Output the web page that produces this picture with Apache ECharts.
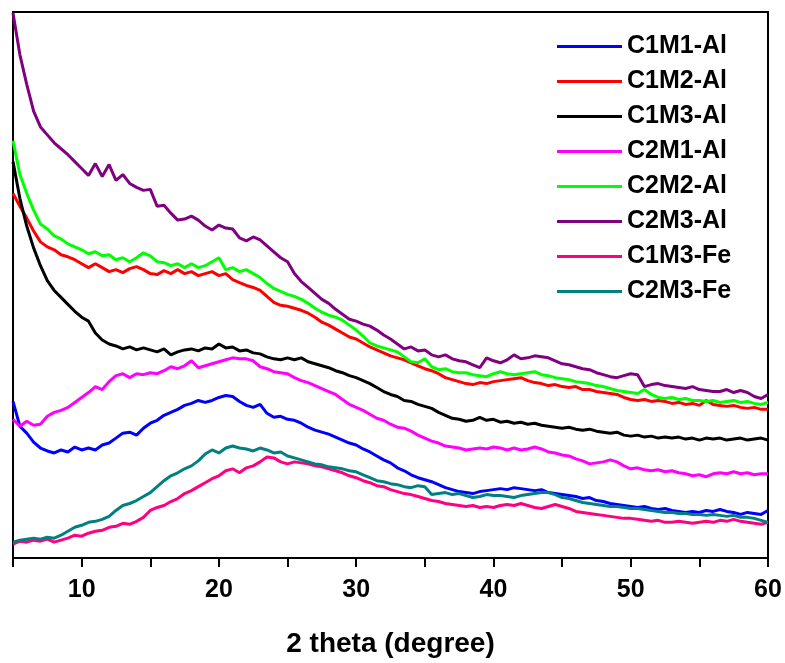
<!DOCTYPE html>
<html>
<head>
<meta charset="UTF-8">
<title>XRD patterns</title>
<style>
  html, body { margin: 0; padding: 0; background: #fff; }
  #chart { width: 785px; height: 663px; }
</style>
</head>
<body>
<div id="chart"></div>
<script src="https://cdn.jsdelivr.net/npm/echarts@6/dist/echarts.min.js"></script>
<script>
// 2 theta sampling positions (degree)
const twoTheta = [
  5, 5.5, 6, 6.5, 7, 7.5, 8, 8.5, 9, 9.5,
  10, 10.5, 11, 11.5, 12, 12.5, 13, 13.5, 14, 14.5,
  15, 15.5, 16, 16.5, 17, 17.5, 18, 18.5, 19, 19.5,
  20, 20.5, 21, 21.5, 22, 22.5, 23, 23.5, 24, 24.5,
  25, 25.5, 26, 26.5, 27, 27.5, 28, 28.5, 29, 29.5,
  30, 30.5, 31, 31.5, 32, 32.5, 33, 33.5, 34, 34.5,
  35, 35.5, 36, 36.5, 37, 37.5, 38, 38.5, 39, 39.5,
  40, 40.5, 41, 41.5, 42, 42.5, 43, 43.5, 44, 44.5,
  45, 45.5, 46, 46.5, 47, 47.5, 48, 48.5, 49, 49.5,
  50, 50.5, 51, 51.5, 52, 52.5, 53, 53.5, 54, 54.5,
  55, 55.5, 56, 56.5, 57, 57.5, 58, 58.5, 59, 59.5,
  60
];

// intensities (a.u., offset as in the figure)
const c1m1Al = [
  158, 133, 126, 117, 111, 108, 106, 109, 107, 112,
  109, 111, 109, 114, 116, 121, 126, 127, 124, 131,
  136, 139, 144, 147, 150, 154, 156, 159, 157, 159,
  162, 164, 163, 158, 154, 152, 155, 146, 142, 143,
  140, 139, 136, 132, 129, 127, 125, 122, 119, 116,
  114, 110, 107, 103, 99, 96, 91, 88, 84, 81,
  79, 77, 74, 71, 69, 67, 66, 65, 67, 68,
  69, 70, 69, 71, 70, 69, 68, 69, 66, 65,
  64, 63, 62, 60, 61, 58, 57, 55, 54, 53,
  52, 51, 52, 50, 49, 50, 48, 47, 46, 47,
  46, 48, 47, 49, 47, 46, 44, 46, 45, 44,
  48
];
const c1m2Al = [
  368, 355, 343, 330, 319, 314, 311, 306, 304, 301,
  297, 293, 297, 293, 289, 291, 288, 292, 294, 291,
  287, 286, 290, 287, 291, 287, 289, 285, 287, 289,
  285, 287, 281, 278, 275, 273, 270, 264, 258, 255,
  254, 252, 250, 247, 243, 238, 235, 231, 227, 223,
  221, 217, 213, 210, 207, 204, 202, 200, 197, 194,
  191, 189, 186, 182, 180, 178, 176, 175, 177, 176,
  178, 179, 180, 181, 182, 179, 177, 176, 174, 175,
  173, 172, 173, 170, 170, 168, 167, 166, 165, 162,
  160, 159, 160, 158, 159, 158, 156, 157, 155, 156,
  154, 159, 155, 154, 153, 154, 152, 151, 152, 150,
  150
];
const c1m3Al = [
  400, 363, 335, 313, 295, 280, 270, 263, 256, 249,
  243, 239, 227, 220, 216, 214, 211, 213, 210, 212,
  210, 208, 211, 205, 208, 210, 211, 209, 212, 211,
  216, 212, 213, 209, 210, 207, 206, 203, 201, 200,
  202, 200, 202, 198, 196, 194, 192, 189, 187, 184,
  182, 179, 176, 172, 168, 165, 163, 159, 158, 155,
  153, 151, 147, 144, 141, 140, 138, 139, 142, 139,
  140, 137, 138, 136, 137, 135, 136, 134, 133, 132,
  131, 132, 130, 129, 130, 128, 127, 126, 127, 124,
  123, 124, 122, 123, 121, 122, 121, 122, 120, 121,
  119, 121, 120, 121, 119, 120, 121, 119, 120, 121,
  119
];
const c2m1Al = [
  140, 133, 138, 134, 135, 143, 147, 149, 152, 157,
  162, 167, 173, 170, 178, 184, 186, 182, 186, 185,
  187, 186, 189, 193, 191, 194, 199, 192, 194, 196,
  198, 200, 202, 201, 201, 199, 193, 191, 188, 187,
  186, 182, 179, 177, 174, 171, 168, 165, 160, 155,
  152, 149, 145, 141, 139, 135, 132, 131, 128, 124,
  121, 118, 116, 113, 112, 111, 109, 110, 111, 110,
  112, 111, 109, 111, 109, 110, 112, 110, 107, 106,
  104, 103, 100, 98, 95, 96, 97, 99, 97, 93,
  90, 91, 89, 88, 89, 87, 88, 86, 85, 83,
  84, 82, 85, 86, 85, 87, 85, 86, 84, 85,
  85
];
const c2m2Al = [
  421, 387, 368, 351, 337, 332, 325, 322, 317, 314,
  311, 307, 309, 305, 306, 301, 303, 299, 303, 308,
  305, 299, 298, 295, 297, 293, 297, 293, 295, 299,
  303, 291, 293, 289, 291, 287, 283, 277, 272, 269,
  266, 264, 261, 257, 252, 248, 245, 243, 240, 235,
  230, 224, 217, 214, 212, 210, 208, 203, 198, 197,
  201, 193, 190, 191, 188, 187, 187, 185, 184, 183,
  186, 188, 186, 185, 186, 187, 188, 185, 184, 182,
  181, 180, 178, 177, 176, 174, 173, 171, 169, 168,
  167, 166, 170, 165, 162, 161, 162, 160, 161, 159,
  159, 158, 159, 157, 158, 159, 157, 158, 156, 155,
  157
];
const c2m3Al = [
  550, 508, 478, 451, 435, 427, 419, 413, 407, 400,
  393, 386, 398, 385, 397, 381, 387, 378, 374, 371,
  372, 355, 356, 348, 341, 342, 345, 341, 335, 331,
  336, 333, 332, 323, 320, 324, 321, 315, 309, 303,
  299, 287, 279, 273, 267, 261, 257, 251, 246, 241,
  239, 236, 234, 230, 225, 221, 216, 211, 213, 209,
  210, 205, 203, 205, 201, 199, 198, 195, 192, 202,
  199, 197, 200, 205, 201, 202, 204, 203, 202, 199,
  196, 195, 193, 191, 190, 187, 185, 183, 182, 184,
  186, 185, 173, 175, 176, 174, 173, 172, 171, 173,
  170, 169, 168, 168, 170, 167, 169, 167, 163, 161,
  165
];
const c1m3Fe = [
  14, 17, 16, 18, 17, 19, 16, 18, 20, 23,
  22, 25, 27, 28, 31, 32, 35, 34, 37, 41,
  48, 51, 53, 57, 60, 65, 68, 72, 76, 80,
  83, 88, 90, 86, 91, 93, 97, 102, 101, 97,
  95, 97, 96, 95, 93, 92, 90, 88, 86, 83,
  81, 78, 76, 73, 72, 69, 67, 65, 64, 62,
  60, 58, 57, 55, 54, 53, 52, 53, 51, 52,
  51, 53, 54, 53, 55, 53, 51, 50, 52, 54,
  52, 50, 47, 46, 45, 44, 43, 42, 41, 40,
  40, 39, 38, 37, 38, 36, 36, 37, 36, 35,
  36, 37, 36, 38, 37, 39, 37, 36, 35, 34,
  36
];
const c2m3Fe = [
  16, 18, 19, 20, 19, 21, 20, 23, 27, 31,
  33, 36, 37, 39, 42, 48, 53, 55, 58, 62,
  66, 72, 78, 83, 86, 90, 93, 98, 105, 109,
  106, 111, 113, 111, 110, 108, 111, 109, 106, 107,
  103, 101, 99, 97, 95, 94, 92, 91, 90, 88,
  87, 84, 81, 78, 77, 75, 74, 72, 71, 73,
  72, 64, 65, 66, 64, 65, 63, 61, 62, 64,
  63, 63, 62, 61, 63, 64, 65, 66, 66, 64,
  61, 60, 58, 56, 55, 54, 53, 52, 52, 51,
  50, 50, 49, 48, 47, 46, 46, 45, 45, 44,
  44, 43, 44, 43, 42, 43, 41, 41, 40, 38,
  36
];

const seriesNames = ['C1M1-Al', 'C1M2-Al', 'C1M3-Al', 'C2M1-Al', 'C2M2-Al', 'C2M3-Al', 'C1M3-Fe', 'C2M3-Fe'];
const seriesData = [c1m1Al, c1m2Al, c1m3Al, c2m1Al, c2m2Al, c2m3Al, c1m3Fe, c2m3Fe];
const seriesColors = ['#0000ff', '#ff0000', '#000000', '#ff00ff', '#00ff00', '#800080', '#ff0080', '#008080'];

const font = '"Liberation Sans", Arial, sans-serif';
const chart = echarts.init(document.getElementById('chart'));

const series = seriesNames.map(function (name, i) {
  return {
    name: name,
    type: 'line',
    symbol: 'none',
    color: seriesColors[i],
    lineStyle: {width: 3, color: seriesColors[i]},
    data: twoTheta.map(function (x, j) { return [x, seriesData[i][j]]; })
  };
});

chart.setOption({
  animation: false,
  backgroundColor: '#fff',
  grid: {
    left: 13, right: 17, top: 12, bottom: 100,
    show: true, borderColor: '#000', borderWidth: 2, backgroundColor: 'transparent'
  },
  legend: {
    orient: 'vertical',
    left: 557,
    top: 34,
    padding: 0,
    icon: 'rect',
    itemWidth: 65,
    itemHeight: 3,
    itemGap: 10,
    textStyle: {fontFamily: font, fontSize: 25, fontWeight: 'bold', color: '#000', lineHeight: 24},
    data: seriesNames
  },
  xAxis: {
    type: 'value',
    min: 5,
    max: 60,
    interval: 5,
    name: '2 theta (degree)',
    nameLocation: 'middle',
    nameGap: 72,
    nameTextStyle: {fontFamily: font, fontSize: 28, fontWeight: 'bold', color: '#000'},
    axisLine: {lineStyle: {color: '#000', width: 2}},
    axisTick: {show: true, inside: false, length: 9, lineStyle: {color: '#000', width: 2}},
    axisLabel: {
      fontFamily: font, fontSize: 25, fontWeight: 'bold', color: '#000', margin: 20,
      formatter: function (v) { return v % 10 === 0 ? String(v) : ''; }
    },
    splitLine: {show: false}
  },
  yAxis: {
    type: 'value',
    min: 0,
    max: 551,
    axisLine: {show: true, lineStyle: {color: '#000', width: 2}},
    axisTick: {show: false},
    axisLabel: {show: false},
    splitLine: {show: false}
  },
  series: series
});
</script>
</body>
</html>
